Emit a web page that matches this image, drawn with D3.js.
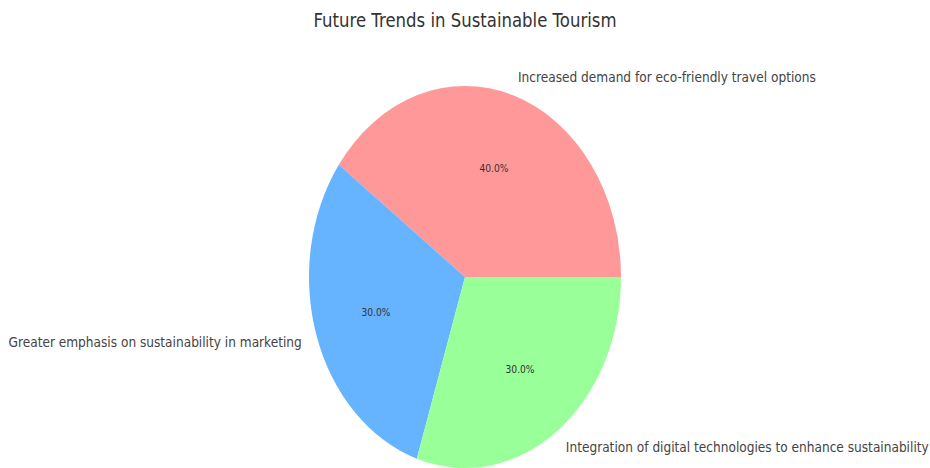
<!DOCTYPE html>
<html>
<head>
<meta charset="utf-8">
<script src="https://cdn.jsdelivr.net/npm/d3@7"></script>
<style>
  html, body { margin: 0; padding: 0; background: #fff; }
  svg { display: block; }
  text { font-family: "DejaVu Sans", sans-serif; }
</style>
</head>
<body>
<svg id="chart" width="930" height="468"></svg>
<script>
// Share of each expected trend (percent)
const categories = [
  "Increased demand for eco-friendly travel options",
  "Greater emphasis on sustainability in marketing",
  "Integration of digital technologies to enhance sustainability"
];
const shares = [40, 30, 30];
const colors = ["#ff9999", "#66b3ff", "#99ff99"];
const title = "Future Trends in Sustainable Tourism";

const W = 930, H = 468;
const cx = 465, cy = 277;      // pie centre
const rx = 156, ry = 191;      // the pie is drawn as an ellipse
const squeeze = 0.87;          // horizontal text compression

const svg = d3.select("#chart");

// Start at 3 o'clock and run counter-clockwise
const pie = d3.pie().sort(null).value(d => d)
  .startAngle(Math.PI / 2)
  .endAngle(Math.PI / 2 - 2 * Math.PI);
const arcs = pie(shares);

const arc = d3.arc().innerRadius(0).outerRadius(ry);

const pieG = svg.append("g")
  .attr("transform", `translate(${cx},${cy}) scale(${rx / ry},1)`);

pieG.selectAll("path")
  .data(arcs)
  .join("path")
  .attr("d", arc)
  .attr("fill", (d, i) => colors[i]);

// point on the ellipse at fraction f of the radius, for a d3 angle a
const pt = (a, f) => [cx + f * rx * Math.sin(a), cy - f * ry * Math.cos(a)];

function addText(x, y, str, size, anchor, fill) {
  svg.append("g")
    .attr("transform", `translate(${x},${y}) scale(${squeeze},1)`)
    .append("text")
    .attr("x", 0).attr("y", 0)
    .attr("dy", "0.35em")
    .attr("text-anchor", anchor)
    .attr("font-size", size)
    .attr("fill", fill)
    .text(str);
}

arcs.forEach((d, i) => {
  const mid = (d.startAngle + d.endAngle) / 2;
  const [px, py] = pt(mid, 0.6);
  addText(px, py, d3.format(".1f")(shares[i] / d3.sum(shares) * 100) + "%", 10.5, "middle", "#333");
  const [lx, ly] = pt(mid, 1.1);
  addText(lx, ly, categories[i], 14, Math.sin(mid) > 0 ? "start" : "end", "#444");
});

addText(W / 2, 20, title, 19, "middle", "#333");
</script>
</body>
</html>
